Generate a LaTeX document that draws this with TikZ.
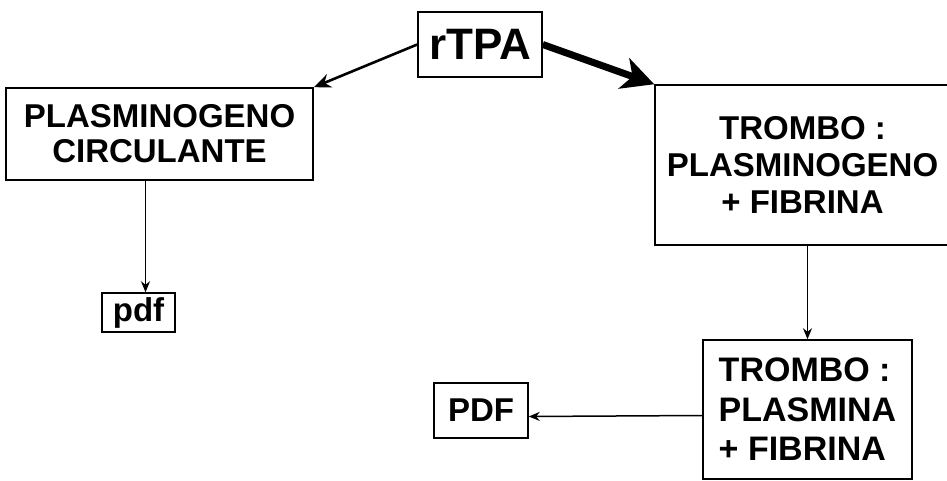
\documentclass[tikz,border=0pt]{standalone}
\usepackage{fontspec}
\setmainfont{Liberation Sans}
\usetikzlibrary{arrows.meta,positioning}
\tikzset{
  box/.style={draw=black,line width=1.5pt,inner sep=0pt,align=center,
              font=\bfseries\fontsize{33}{37}\selectfont},
  thinarr/.style={-{Stealth[length=11pt,width=9pt]},line width=1.5pt},
  midarr/.style={-{Stealth[length=17pt,width=14pt]},line width=2.6pt},
  bigarr/.style={-{Stealth[length=32pt,width=32pt,inset=9pt]},line width=7pt}
}
\begin{document}
\begin{tikzpicture}[x=1pt,y=-1pt]
    \path[use as bounding box] (0,0) rectangle (947,481);

    \node[box,minimum width=124pt,minimum height=65pt,
          font=\bfseries\fontsize{44}{44}\selectfont] (rtpa) at (480,44.5) {rTPA};
    \node[box,minimum width=307pt,minimum height=92pt,
          font=\bfseries\fontsize{33}{35}\selectfont] (circ) at (159.5,134)
      {PLASMINOGENO\\CIRCULANTE};
    \node[box,minimum width=295pt,minimum height=160pt] (trombo) at (802.5,165)
      {TROMBO :\\PLASMINOGENO\\+ FIBRINA};
    \node[box,minimum width=73pt,minimum height=39pt] (pdf) at (138.5,312.5) {pdf};
    \node[box,minimum width=209pt,minimum height=139pt,align=left,
          font=\bfseries\fontsize{34}{39.5}\selectfont] (plasmina) at (807.5,409.5)
      {TROMBO :\\PLASMINA\\+ FIBRINA};
    \node[box,minimum width=94pt,minimum height=55pt] (bigpdf) at (481,410.5) {PDF};

    \draw[midarr] (rtpa.west) -- (circ.north east);
    \draw[bigarr] (rtpa.east) -- (trombo.north west);
    \draw[thinarr] ([xshift=7pt]pdf.north |- circ.south) -- ([xshift=7pt]pdf.north);
    \draw[thinarr] (plasmina.north |- trombo.south) -- (plasmina.north);
    \draw[thinarr] ([yshift=-6pt]plasmina.west) -- ([yshift=-6pt]bigpdf.east);
\end{tikzpicture}
\end{document}
